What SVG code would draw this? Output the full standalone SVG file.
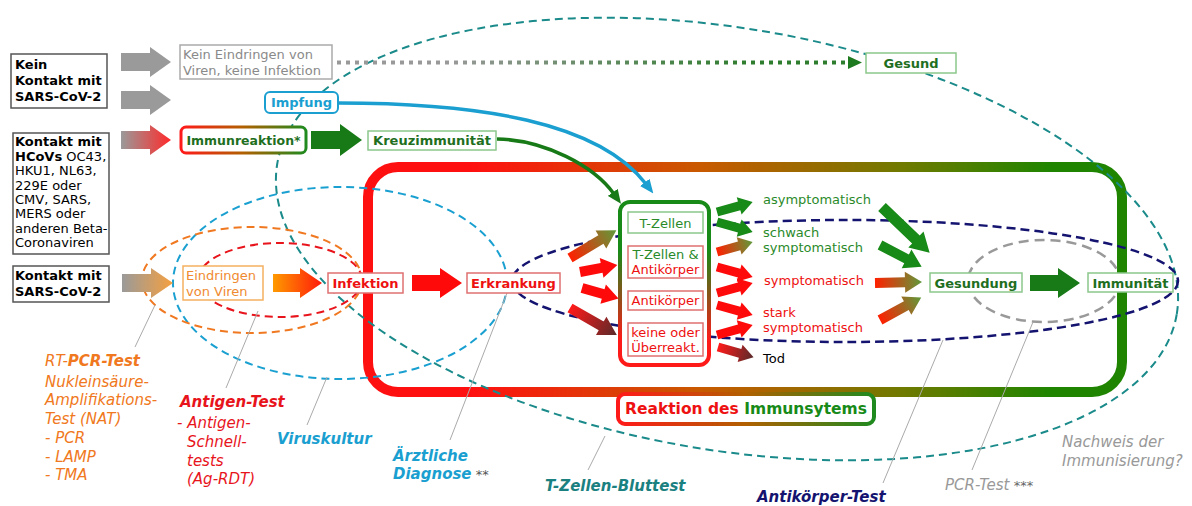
<svg xmlns="http://www.w3.org/2000/svg" xmlns:xlink="http://www.w3.org/1999/xlink" width="1192" height="506" viewBox="0 0 1192 506">
<defs>
<style>
text{font-family:"DejaVu Sans",Verdana,sans-serif;font-size:13px}
.b{font-weight:bold}
.mid{text-anchor:middle}
.lab{font-style:italic;font-size:15px}
.blk{fill:#000}
.gr{fill:#1f6f1f}
.lg{fill:#2a8a2a}
.rd{fill:#ee1111}
.or{fill:#f07820}
.box{fill:#fff}
.lead{stroke:#aaa;stroke-width:1;fill:none}
.dash{fill:none;stroke-width:2;stroke-dasharray:8 5}
</style>
<linearGradient id="gGrayRed"><stop offset="0" stop-color="#9a9a9a"/><stop offset="1" stop-color="#ff2a2a"/></linearGradient>
<linearGradient id="gGrayOr"><stop offset="0" stop-color="#9a9a9a"/><stop offset="1" stop-color="#f5a040"/></linearGradient>
<linearGradient id="gOrRed"><stop offset="0" stop-color="#ff9a00"/><stop offset="1" stop-color="#ff1a0a"/></linearGradient>
<linearGradient id="gRedGreen"><stop offset="0" stop-color="#ff2000"/><stop offset="1" stop-color="#5f9a3a"/></linearGradient>
<linearGradient id="gRedDark"><stop offset="0" stop-color="#ff1a1a"/><stop offset="1" stop-color="#5a2a2a"/></linearGradient>
<linearGradient id="gImmun"><stop offset="0" stop-color="#ff1a1a"/><stop offset="0.5" stop-color="#b06000"/><stop offset="1" stop-color="#1f8a1f"/></linearGradient>
<linearGradient id="gTbox" x1="0" y1="0" x2="0" y2="1"><stop offset="0" stop-color="#178a17"/><stop offset="0.3" stop-color="#178a17"/><stop offset="0.85" stop-color="#ff1a1a"/></linearGradient>
<linearGradient id="gBig" gradientUnits="userSpaceOnUse" x1="470" y1="0" x2="1050" y2="0"><stop offset="0" stop-color="#ff1010"/><stop offset="0.4" stop-color="#c85a00"/><stop offset="0.75" stop-color="#6e7a00"/><stop offset="1" stop-color="#1f8500"/></linearGradient>
<linearGradient id="gDot" gradientUnits="userSpaceOnUse" x1="450" y1="0" x2="750" y2="0"><stop offset="0" stop-color="#999"/><stop offset="1" stop-color="#2e7d2e"/></linearGradient>
<marker id="mBlue" markerUnits="userSpaceOnUse" markerWidth="14" markerHeight="12" refX="2" refY="6" orient="auto"><path d="M0,0 L14,6 L0,12 Z" fill="#1a9fd0"/></marker>
<marker id="mGreen" markerUnits="userSpaceOnUse" markerWidth="14" markerHeight="12" refX="2" refY="6" orient="auto"><path d="M0,0 L14,6 L0,12 Z" fill="#177a17"/></marker>
<path id="sa" d="M0,-4.5 H23 V-9 L37,0 L23,9 V4.5 H0 Z"/>
<path id="sb" d="M0,-5 H22 V-10 L38,0 L22,10 V5 H0 Z"/>
<path id="ma" d="M0,-5 H30 V-10.5 L47,0 L30,10.5 V5 H0 Z"/>
<path id="la" d="M0,-5 H36 V-10.5 L54,0 L36,10.5 V5 H0 Z"/>
<path id="xa" d="M0,-5.5 H47 V-11 L66,0 L47,11 V5.5 H0 Z"/>
</defs>
<rect width="1192" height="506" fill="#fff"/>

<g id="reaktion-frame">
<rect x="368" y="167" width="754" height="225" rx="30" fill="none" stroke="url(#gBig)" stroke-width="10"/>
</g>

<g id="test-ellipses">
<ellipse cx="727" cy="239" rx="456" ry="211" transform="rotate(9.5 727 239)" class="dash" stroke="#1a8a8a"/>
<ellipse cx="340" cy="283" rx="167" ry="96" class="dash" stroke="#1aa0d0"/>
<ellipse cx="252" cy="280" rx="110" ry="53" class="dash" stroke="#f07820"/>
<ellipse cx="280" cy="280" rx="82" ry="37" class="dash" stroke="#e8141c"/>
<ellipse cx="845" cy="281" rx="333" ry="61" fill="none" stroke="#141470" stroke-width="2.5" stroke-dasharray="9 5"/>
<ellipse cx="1044" cy="281" rx="76" ry="41" fill="none" stroke="#999" stroke-width="2.5" stroke-dasharray="10 6"/>
</g>

<g id="leaders">
<line x1="155" y1="305" x2="135" y2="347" class="lead"/>
<line x1="258" y1="311" x2="226" y2="388" class="lead"/>
<line x1="327" y1="377" x2="307" y2="425" class="lead"/>
<line x1="507" y1="293" x2="450" y2="440" class="lead"/>
<line x1="605" y1="436" x2="588" y2="470" class="lead"/>
<line x1="943" y1="340" x2="883" y2="483" class="lead"/>
<line x1="1033" y1="322" x2="972" y2="470" class="lead"/>
</g>

<g id="connectors">
<path d="M121,53 H150 V47 L171,62 L150,77 V71 H121 Z" fill="#9a9a9a"/>
<path d="M121,91 H150 V85 L171,100 L150,115 V109 H121 Z" fill="#9a9a9a"/>
<path d="M121,131 H150 V125 L171,140 L150,155 V149 H121 Z" fill="url(#gGrayRed)"/>
<path d="M122,274 H151 V268 L173,283 L151,298 V292 H122 Z" fill="url(#gGrayOr)"/>
<path d="M273,274 H300 V268 L322,283 L300,298 V292 H273 Z" fill="url(#gOrRed)"/>
<path d="M412,275 H440 V268 L462,283 L440,298 V291 H412 Z" fill="#ff0a0a"/>
<path d="M311,131 H340 V124 L362,140 L340,156 V149 H311 Z" fill="#177a17"/>
<path d="M1030,275 H1058 V268 L1080,283 L1058,298 V291 H1030 Z" fill="#177a17"/>
<path d="M337,62.5 H848" stroke="url(#gDot)" stroke-width="4" stroke-dasharray="4 5" fill="none"/>
<path d="M848,56 L862,62.5 L848,69 Z" fill="#1e7a1e"/>
<path d="M338,103 C480,103 598,122 646,184" fill="none" stroke="#1a9fd0" stroke-width="3.5" marker-end="url(#mBlue)"/>
<path d="M497,139 C545,140 594,166 614,194" fill="none" stroke="#177a17" stroke-width="3.5" marker-end="url(#mGreen)"/>
<use xlink:href="#la" transform="translate(570,258) rotate(-30.8)" fill="url(#gRedGreen)"/>
<use xlink:href="#sb" transform="translate(580,272) rotate(-10.7)" fill="#ff0a0a"/>
<use xlink:href="#sb" transform="translate(582,288) rotate(15.9)" fill="#ff0a0a"/>
<use xlink:href="#la" transform="translate(570,308) rotate(29.9)" fill="url(#gRedDark)"/>
<use xlink:href="#sa" transform="translate(717,212) rotate(-15.5)" fill="#178a17"/>
<use xlink:href="#sa" transform="translate(717,222) rotate(15.5)" fill="#178a17"/>
<use xlink:href="#sa" transform="translate(717,252) rotate(-15.5)" fill="url(#gRedGreen)"/>
<use xlink:href="#sa" transform="translate(717,267) rotate(15.5)" fill="#ff0a0a"/>
<use xlink:href="#sa" transform="translate(717,293) rotate(-15.5)" fill="#ff0a0a"/>
<use xlink:href="#sa" transform="translate(717,305) rotate(15.5)" fill="#ff0a0a"/>
<use xlink:href="#sa" transform="translate(717,335) rotate(-15.5)" fill="#ff0a0a"/>
<use xlink:href="#sa" transform="translate(718,347) rotate(15.9)" fill="url(#gRedDark)"/>
<use xlink:href="#xa" transform="translate(882,207) rotate(43.8)" fill="#178a17"/>
<use xlink:href="#ma" transform="translate(880,245) rotate(27.6)" fill="#178a17"/>
<use xlink:href="#ma" transform="translate(875,283) rotate(-1.2)" fill="url(#gRedGreen)"/>
<use xlink:href="#ma" transform="translate(880,320) rotate(-28.7)" fill="url(#gRedGreen)"/>
</g>

<g id="n-kein-kontakt">
<rect x="11" y="54" width="96" height="54" class="box" stroke="#555" stroke-width="1.5"/>
<text x="15" y="69" class="b blk">Kein</text>
<text x="15" y="85" class="b blk">Kontakt mit</text>
<text x="15" y="101" class="b blk">SARS-CoV-2</text>
</g>
<g id="n-hcov">
<rect x="13" y="133" width="96" height="121" class="box" stroke="#555" stroke-width="1.5"/>
<text x="15" y="146" class="b blk">Kontakt mit</text>
<text x="15" y="161" class="blk"><tspan class="b">HCoVs</tspan> OC43,</text>
<text x="15" y="175" class="blk">HKU1, NL63,</text>
<text x="15" y="190" class="blk">229E oder</text>
<text x="15" y="204" class="blk">CMV, SARS,</text>
<text x="15" y="218" class="blk">MERS oder</text>
<text x="15" y="233" class="blk">anderen Beta-</text>
<text x="15" y="247" class="blk">Coronaviren</text>
</g>
<g id="n-sars">
<rect x="13" y="266" width="96" height="36" class="box" stroke="#555" stroke-width="1.5"/>
<text x="15" y="280" class="b blk">Kontakt mit</text>
<text x="15" y="296" class="b blk">SARS-CoV-2</text>
</g>
<g id="n-kein-eindringen">
<rect x="180" y="45" width="152" height="34" class="box" stroke="#aaa" stroke-width="1.5"/>
<text x="183" y="59" fill="#8a8a8a">Kein Eindringen von</text>
<text x="183" y="75" fill="#8a8a8a">Viren, keine Infektion</text>
</g>
<g id="n-gesund">
<rect x="866" y="53" width="90" height="20" class="box" stroke="#8cc88c" stroke-width="1.5"/>
<text x="911" y="68" class="b gr mid">Gesund</text>
</g>
<g id="n-impfung">
<rect x="265" y="92" width="73" height="21" rx="5" class="box" stroke="#1a9fd0" stroke-width="2"/>
<text x="301.5" y="107" class="b mid" fill="#1a9fd0">Impfung</text>
</g>
<g id="n-immunreaktion">
<rect x="181" y="127" width="125" height="26" rx="5" class="box" stroke="url(#gImmun)" stroke-width="3"/>
<text x="243.5" y="145" class="b gr mid" style="font-size:12.5px">Immunreaktion*</text>
</g>
<g id="n-kreuz">
<rect x="368" y="131" width="128" height="19" class="box" stroke="#8cc88c" stroke-width="1.5"/>
<text x="432" y="145" class="b gr mid">Kreuzimmunität</text>
</g>
<g id="n-eindringen">
<rect x="183" y="266" width="80" height="34" class="box" stroke="#f5b060" stroke-width="1.5"/>
<text x="186" y="280" fill="#f08a30">Eindringen</text>
<text x="186" y="296" fill="#f08a30">von Viren</text>
</g>
<g id="n-infektion">
<rect x="328" y="273" width="75" height="20" class="box" stroke="#e07070" stroke-width="1.5"/>
<text x="365.5" y="288" class="b rd mid">Infektion</text>
</g>
<g id="n-erkrankung">
<rect x="467" y="273" width="93" height="20" class="box" stroke="#e07070" stroke-width="1.5"/>
<text x="513.5" y="288" class="b rd mid">Erkrankung</text>
</g>
<g id="n-tbox">
<rect x="620" y="202" width="89" height="163" rx="10" class="box" stroke="url(#gTbox)" stroke-width="4"/>
<rect x="628" y="212" width="75" height="21" class="box" stroke="#8cc88c" stroke-width="1.5"/>
<text x="665.5" y="228" class="lg mid">T-Zellen</text>
<rect x="628" y="246" width="75" height="32" class="box" stroke="#e07070" stroke-width="1.5"/>
<text x="665.5" y="259" class="lg mid">T-Zellen &amp;</text>
<text x="665.5" y="274" class="rd mid">Antikörper</text>
<rect x="628" y="291" width="75" height="19" class="box" stroke="#e07070" stroke-width="1.5"/>
<text x="665.5" y="305" class="rd mid">Antikörper</text>
<rect x="628" y="323" width="75" height="33" class="box" stroke="#e07070" stroke-width="1.5"/>
<text x="665.5" y="337" class="rd mid">keine oder</text>
<text x="665.5" y="352" class="rd mid">Überreakt.</text>
</g>
<g id="n-verlauf">
<text x="763" y="204" class="lg">asymptomatisch</text>
<text x="763" y="237" class="lg">schwach</text>
<text x="763" y="252" class="lg">symptomatisch</text>
<text x="764" y="285" class="rd">symptomatisch</text>
<text x="763" y="317" class="rd">stark</text>
<text x="763" y="332" class="rd">symptomatisch</text>
<text x="763" y="363" class="blk">Tod</text>
</g>
<g id="n-gesundung">
<rect x="930" y="273" width="92" height="19" class="box" stroke="#8cc88c" stroke-width="1.5"/>
<text x="976" y="288" class="b gr mid">Gesundung</text>
</g>
<g id="n-immunitaet">
<rect x="1088" y="273" width="85" height="19" class="box" stroke="#8cc88c" stroke-width="1.5"/>
<text x="1130.5" y="288" class="b gr mid">Immunität</text>
</g>
<g id="n-reaktion-label">
<rect x="618" y="394" width="256" height="30" rx="7" class="box" stroke="url(#gImmun)" stroke-width="4"/>
<text x="746" y="414" class="b mid" style="font-size:15.5px"><tspan fill="#ee1111">Reaktion des </tspan><tspan fill="#178a17">Immunsytems</tspan></text>
</g>

<g id="test-labels">
<text x="45" y="366" class="lab or">RT-<tspan class="b">PCR-Test</tspan></text>
<text x="45" y="387" class="lab or">Nukleinsäure-</text>
<text x="45" y="405" class="lab or">Amplifikations-</text>
<text x="45" y="424" class="lab or">Test (NAT)</text>
<text x="45" y="443" class="lab or">- PCR</text>
<text x="45" y="462" class="lab or">- LAMP</text>
<text x="45" y="480" class="lab or">- TMA</text>
<text x="180" y="407" class="lab b" fill="#e8141c">Antigen-Test</text>
<text x="177" y="428" class="lab" fill="#e8141c">- Antigen-</text>
<text x="187" y="447" class="lab" fill="#e8141c">Schnell-</text>
<text x="187" y="466" class="lab" fill="#e8141c">tests</text>
<text x="187" y="484" class="lab" fill="#e8141c">(Ag-RDT)</text>
<text x="277" y="444" class="lab b" fill="#1a9fd0">Viruskultur</text>
<text x="393" y="461" class="lab b" fill="#1a9fd0">Ärztliche</text>
<text x="393" y="479" class="lab b" fill="#1a9fd0">Diagnose<tspan fill="#555" style="font-weight:normal;font-style:normal;font-size:13px"> **</tspan></text>
<text x="545" y="491" class="lab b" fill="#1a8080">T-Zellen-Bluttest</text>
<text x="757" y="502" class="lab b" fill="#141470">Antikörper-Test</text>
<text x="945" y="490" class="lab" fill="#999">PCR-Test<tspan fill="#666" style="font-style:normal;font-size:13px"> ***</tspan></text>
<text x="1062" y="447" class="lab" fill="#999">Nachweis der</text>
<text x="1062" y="466" class="lab" fill="#999">Immunisierung?</text>
</g>
</svg>
